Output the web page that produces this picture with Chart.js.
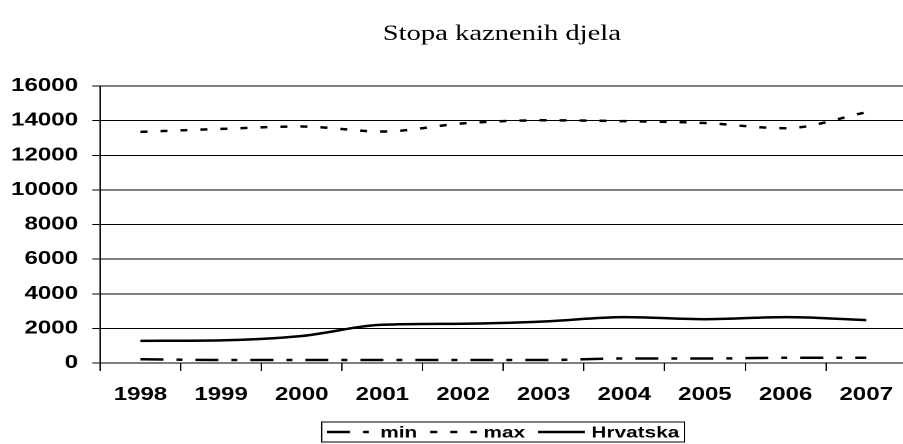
<!DOCTYPE html>
<html>
<head>
<meta charset="utf-8">
<script src="https://cdn.jsdelivr.net/npm/chart.js@4.4.0/dist/chart.umd.min.js"></script>
<style>
html, body { margin: 0; padding: 0; background: #fff; overflow: hidden; }
#wrap { width: 903px; height: 444px; overflow: hidden; }
/* the original picture is stretched sideways, so draw narrow and widen */
#chart { transform: scaleX(1.3); transform-origin: 0 0; }
</style>
</head>
<body>
<div id="wrap"><canvas id="chart" width="700" height="444"></canvas></div>
<script>
const years = ['1998', '1999', '2000', '2001', '2002', '2003', '2004', '2005', '2006', '2007'];
const minValues = [220, 170, 170, 170, 170, 170, 260, 260, 300, 300];
const maxValues = [13350, 13520, 13660, 13370, 13840, 14020, 13970, 13860, 13560, 14480];
const hrvatskaValues = [1280, 1310, 1560, 2210, 2270, 2400, 2650, 2530, 2650, 2480];
const yTicks = [0, 2000, 4000, 6000, 8000, 10000, 12000, 14000, 16000];
const chartTitle = 'Stopa kaznenih djela';

Chart.defaults.color = '#000';
Chart.defaults.font.family = '"Liberation Sans", Arial, sans-serif';
Chart.defaults.font.weight = 'bold';

const titleText = {
    id: 'titleText',
    afterDraw(chart) {
        const ctx = chart.ctx;
        ctx.save();
        ctx.font = '22px "Liberation Serif", "Times New Roman", serif';
        ctx.fillStyle = '#000';
        ctx.textAlign = 'center';
        ctx.textBaseline = 'alphabetic';
        ctx.fillText(chartTitle, 386, 40);
        ctx.restore();
    }
};

const boxLegend = {
    id: 'boxLegend',
    afterDraw(chart) {
        const ctx = chart.ctx;
        const sets = chart.data.datasets;
        ctx.save();
        ctx.font = 'bold 16px "Liberation Sans", Arial, sans-serif';
        const sample = 36, gapText = 5, gapItem = 10, pad = 4;
        const widths = sets.map(d => ctx.measureText(d.label).width);
        const total = widths.reduce((a, b) => a + b, 0) + sets.length * (sample + gapText) + (sets.length - 1) * gapItem + 2 * pad;
        const left = 387 - total / 2;
        const top = 422, h = 20;
        ctx.strokeStyle = '#000';
        ctx.lineWidth = 1;
        ctx.strokeRect(left, top, total, h);
        let x = left + pad;
        const y = top + h / 2;
        sets.forEach((d, i) => {
            ctx.beginPath();
            ctx.setLineDash(d.borderDash || []);
            ctx.lineWidth = d.borderWidth;
            ctx.strokeStyle = d.borderColor;
            ctx.moveTo(x, y);
            ctx.lineTo(x + sample, y);
            ctx.stroke();
            ctx.setLineDash([]);
            x += sample + gapText;
            ctx.fillStyle = '#000';
            ctx.textBaseline = 'middle';
            ctx.fillText(d.label, x, y + 1);
            x += widths[i] + gapItem;
        });
        ctx.restore();
    }
};

const ctx = document.getElementById('chart').getContext('2d');
new Chart(ctx, {
    type: 'line',
    data: {
        labels: years,
        datasets: [{
            label: 'min',
            data: minValues,
            borderColor: '#000',
            borderWidth: 2.5,
            borderDash: [17.7, 10, 4.6, 10],
            pointRadius: 0,
            cubicInterpolationMode: 'monotone'
        }, {
            label: 'max',
            data: maxValues,
            borderColor: '#000',
            borderWidth: 2.5,
            borderDash: [5.4, 10],
            pointRadius: 0,
            cubicInterpolationMode: 'monotone'
        }, {
            label: 'Hrvatska',
            data: hrvatskaValues,
            borderColor: '#000',
            borderWidth: 2.5,
            pointRadius: 0,
            cubicInterpolationMode: 'monotone'
        }]
    },
    options: {
        responsive: false,
        animation: false,
        devicePixelRatio: 2,
        layout: { padding: { top: 86, right: 2, bottom: 0, left: 0 } },
        plugins: {
            legend: { display: false },
            title: { display: false },
            tooltip: { enabled: false }
        },
        scales: {
            x: {
                offset: true,
                grid: { offset: true, drawOnChartArea: false, color: '#000', tickLength: 8 },
                border: { color: '#000' },
                ticks: { font: { size: 18.5 }, padding: 13, maxRotation: 0 },
                afterFit(scale) { scale.height = 81; }
            },
            y: {
                min: 0,
                max: 16000,
                afterBuildTicks(scale) { scale.ticks = yTicks.map(v => ({ value: v })); },
                grid: { color: '#000', tickLength: 6 },
                border: { color: '#000' },
                ticks: { font: { size: 18.5 }, padding: 11, callback: v => String(v) },
                afterFit(scale) { scale.width = 77; }
            }
        }
    },
    plugins: [titleText, boxLegend]
});
</script>
</body>
</html>
